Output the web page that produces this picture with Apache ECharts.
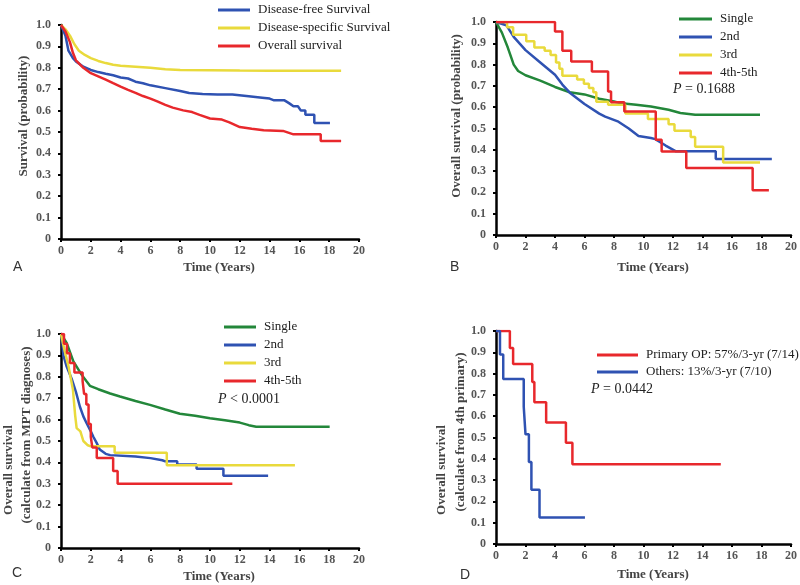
<!DOCTYPE html>
<html>
<head>
<meta charset="utf-8">
<script src="https://cdn.jsdelivr.net/npm/echarts@6/dist/echarts.min.js"></script>
<style>
  html, body { margin: 0; padding: 0; background: #fff; }
  #chart { width: 800px; height: 585px; }
</style>
</head>
<body>
<div id="chart"></div>
<script>
// Kaplan-Meier curves, points are [years, survival]
// panel A
const aDisFree = [[0,1],[0.3,0.95],[0.5,0.88],[0.8,0.845],[1,0.83],[1.5,0.805],[2,0.79],[2.5,0.78],[3,0.772],[3.5,0.765],[4,0.755],[4.5,0.75],[5,0.735],[5.5,0.728],[6,0.718],[7,0.705],[8,0.692],[8.6,0.682],[9.5,0.678],[10.5,0.675],[11.5,0.675],[12.6,0.667],[13.5,0.66],[14,0.656],[14.3,0.648],[15,0.648],[15.3,0.635],[15.6,0.62],[15.9,0.62],[16.1,0.6],[16.4,0.6],[16.4,0.581],[17,0.581],[17,0.542],[18.05,0.542]];
const aDisSpec = [[0,1],[0.3,0.98],[0.6,0.95],[0.9,0.91],[1.2,0.88],[1.6,0.86],[2,0.845],[2.5,0.832],[3,0.822],[3.5,0.814],[4,0.81],[5,0.805],[6,0.8],[7,0.793],[8,0.79],[10,0.789],[12,0.787],[14,0.786],[16,0.786],[18.8,0.786]];
const aOverall = [[0,1],[0.3,0.97],[0.6,0.92],[0.8,0.87],[1,0.835],[1.5,0.8],[2,0.775],[2.5,0.76],[3,0.745],[3.5,0.728],[4,0.712],[4.5,0.697],[5,0.683],[5.5,0.668],[6,0.656],[6.5,0.642],[7,0.627],[7.5,0.614],[8.2,0.601],[8.8,0.593],[9.3,0.58],[10,0.563],[10.8,0.558],[11.3,0.545],[12,0.523],[12.8,0.515],[13.6,0.508],[14.9,0.505],[15.6,0.489],[17.43,0.489],[17.43,0.458],[18.8,0.458]];
// panel B
const bSingle = [[0,1],[0.4,0.95],[0.8,0.88],[1.2,0.8],[1.5,0.77],[2,0.75],[3,0.725],[4,0.695],[5,0.67],[6,0.66],[7,0.64],[8,0.627],[8.5,0.618],[9.5,0.612],[10.5,0.603],[11.7,0.588],[12.5,0.573],[13.5,0.565],[17.9,0.565]];
const bSecond = [[0,1],[0.7,0.985],[1.2,0.93],[2,0.868],[3,0.81],[4,0.752],[4.5,0.706],[5,0.668],[6,0.615],[7,0.57],[7.4,0.556],[8.3,0.532],[9,0.5],[9.66,0.465],[10.5,0.455],[10.8,0.45],[11.5,0.42],[12.2,0.393],[14.9,0.393],[14.9,0.357],[18.7,0.357]];
const bThird = [[0,1],[0.75,0.975],[1.16,0.94],[2.05,0.91],[2.6,0.88],[3.3,0.865],[3.7,0.845],[4.07,0.81],[4.3,0.78],[4.5,0.748],[5.5,0.73],[5.96,0.71],[6.3,0.69],[6.6,0.67],[6.8,0.626],[7.6,0.611],[8.77,0.571],[10.3,0.545],[11.7,0.52],[12.1,0.49],[13.2,0.46],[13.5,0.414],[15.4,0.34],[17.9,0.34]];
const bFourth = [[0,1],[4.0,0.955],[4.5,0.865],[5.1,0.815],[6.5,0.768],[7.6,0.674],[7.8,0.623],[8.7,0.58],[10.83,0.447],[11.23,0.392],[12.9,0.314],[17.4,0.21],[18.5,0.21]];
// panel C
const cSingle = [[0,1],[0.38,0.958],[0.83,0.872],[1.39,0.809],[1.7,0.78],[1.94,0.758],[2.5,0.742],[3.3,0.722],[3.96,0.708],[5,0.687],[5.97,0.669],[7,0.647],[7.98,0.627],[9,0.618],[10,0.606],[11,0.597],[12,0.586],[12.6,0.574],[13.1,0.567],[18.03,0.567]];
const cSecond = [[0,1],[0.1,0.95],[0.16,0.9],[0.38,0.848],[0.72,0.79],[1.0,0.73],[1.27,0.66],[1.5,0.615],[1.72,0.583],[2,0.545],[2.17,0.52],[2.4,0.49],[2.6,0.46],[3.0,0.44],[3.3,0.434],[5,0.428],[6,0.42],[6.8,0.41],[7.0,0.405],[7.8,0.405],[7.8,0.39],[9.1,0.39],[9.1,0.37],[10.9,0.37],[10.9,0.338],[13.9,0.338]];
const cThird = [[0,1],[0.25,0.92],[0.5,0.85],[0.8,0.74],[0.95,0.62],[1.05,0.56],[1.3,0.545],[1.5,0.5],[1.8,0.48],[2.0,0.475],[3.6,0.475],[3.6,0.445],[7.1,0.445],[7.1,0.387],[15.7,0.387]];
const cFourth = [[0,1],[0.2,0.955],[0.4,0.91],[0.6,0.865],[0.9,0.82],[1.45,0.78],[1.55,0.72],[1.7,0.67],[1.85,0.58],[2.0,0.52],[2.1,0.47],[2.4,0.42],[3.5,0.36],[3.8,0.3],[11.5,0.3]];
// panel D
const dPrimaryOp = [[0,1],[0.94,0.92],[1.16,0.845],[2.46,0.76],[2.6,0.665],[3.4,0.57],[4.74,0.475],[5.18,0.375],[15.24,0.375]];
const dOthers = [[0,1],[0.27,0.89],[0.49,0.775],[1.88,0.645],[2.0,0.515],[2.23,0.385],[2.4,0.255],[2.95,0.125],[6.03,0.125]];

const xTicks = [0, 20, 2];    // min, max, step
const yTicks = [0, 1, 0.1];

const BLUE = '#2f52b2', YELLOW = '#e9da3c', RED = '#e8282c', GREEN = '#23873a';
const serif = '"Liberation Serif", "DejaVu Serif", serif';

const grids = [
    {left: 61, top: 25, width: 298, height: 214},
    {left: 496, top: 22, width: 298, height: 213},
    {left: 61, top: 334, width: 298, height: 214},
    {left: 496, top: 331, width: 298, height: 213}
];

function xAxisFor(i) {
    return {
        type: 'value', gridIndex: i, min: xTicks[0], max: xTicks[1], interval: xTicks[2],
        axisLine: {lineStyle: {color: '#000', width: 2.5}},
        axisTick: {length: 3, lineStyle: {color: '#000', width: 2}},
        splitLine: {show: false},
        axisLabel: {margin: 6, color: '#555', fontFamily: serif, fontWeight: 'bold', fontSize: 12}
    };
}
function yAxisFor(i) {
    return {
        type: 'value', gridIndex: i, min: yTicks[0], max: yTicks[1], interval: yTicks[2],
        axisLine: {show: true, lineStyle: {color: '#000', width: 2.5}},
        axisTick: {show: true, length: 3, lineStyle: {color: '#000', width: 2}},
        splitLine: {show: false},
        axisLabel: {
            margin: 10, color: '#555', fontFamily: serif, fontWeight: 'bold', fontSize: 12,
            formatter: v => v === 0 ? '0' : v.toFixed(1)
        }
    };
}
function km(name, data, color, i, step) {
    return {
        name: name, type: 'line', data: data, xAxisIndex: i, yAxisIndex: i,
        step: step ? 'end' : false, symbol: 'none', silent: true,
        lineStyle: {color: color, width: 2.5}, itemStyle: {color: color}
    };
}
function legendAt(left, top, names, w, gap) {
    return {
        left: left, top: top, orient: 'vertical', data: names, itemWidth: w, itemHeight: 3,
        itemGap: gap, icon: 'rect', selectedMode: false,
        itemStyle: {borderWidth: 0},
        textStyle: {fontFamily: serif, fontSize: 13, lineHeight: 14, color: '#222', padding: [0, 0, 0, 3]}
    };
}
function label(text, x, y) {
    return {type: 'text', x: x, y: y, style: {text: text, font: '14px "Liberation Sans", Arial, sans-serif', fill: '#333', textVerticalAlign: 'middle'}};
}
function axisName(text, x, y, rot) {
    return {
        type: 'text', x: x, y: y, rotation: rot ? Math.PI / 2 : 0,
        style: {text: text, font: 'bold 13px ' + serif, fill: '#444', textAlign: 'center', textVerticalAlign: 'middle'}
    };
}
function pValue(text, x, y) {
    return {
        type: 'text', x: x, y: y,
        style: {
            text: '{i|P} ' + text, font: '14px ' + serif, fill: '#222', textVerticalAlign: 'middle',
            rich: {i: {fontStyle: 'italic', fontFamily: serif, fontSize: 14, fill: '#222'}}
        }
    };
}

const chart = echarts.init(document.getElementById('chart'));
chart.setOption({
    animation: false,
    backgroundColor: '#fff',
    grid: grids,
    xAxis: [0, 1, 2, 3].map(xAxisFor),
    yAxis: [0, 1, 2, 3].map(yAxisFor),
    legend: [
        legendAt(213, -2, ['Disease-free Survival', 'Disease-specific Survival', 'Overall survival'], 32, 4),
        legendAt(674, 7, ['Single', '2nd', '3rd', '4th-5th'], 33, 4),
        legendAt(219, 315, ['Single', '2nd', '3rd', '4th-5th'], 32, 4),
        legendAt(592, 343, ['Primary OP: 57%/3-yr (7/14)', 'Others: 13%/3-yr (7/10)'], 41, 3)
    ],
    series: [
        km('Disease-free Survival', aDisFree, BLUE, 0, false),
        km('Disease-specific Survival', aDisSpec, YELLOW, 0, false),
        km('Overall survival', aOverall, RED, 0, false),
        km('Single', bSingle, GREEN, 1, false),
        km('2nd', bSecond, BLUE, 1, false),
        km('3rd', bThird, YELLOW, 1, true),
        km('4th-5th', bFourth, RED, 1, true),
        km('Single', cSingle, GREEN, 2, false),
        km('2nd', cSecond, BLUE, 2, false),
        km('3rd', cThird, YELLOW, 2, false),
        km('4th-5th', cFourth, RED, 2, true),
        km('Primary OP: 57%/3-yr (7/14)', dPrimaryOp, RED, 3, true),
        km('Others: 13%/3-yr (7/10)', dOthers, BLUE, 3, true)
    ],
    graphic: [
        label('A', 13, 267), label('B', 450, 267), label('C', 12, 573), label('D', 460, 575),
        axisName('Time (Years)', 219, 268), axisName('Time (Years)', 653, 268),
        axisName('Time (Years)', 219, 577), axisName('Time (Years)', 653, 575),
        axisName('Survival (probability)', 24, 116, true),
        axisName('Overall survival (probability)', 457, 116, true),
        axisName('Overall survival', 9, 470, true),
        axisName('(calculate from MPT diagnoses)', 27, 435, true),
        axisName('Overall survival', 442, 470, true),
        axisName('(calculate from 4th primary)', 461, 432, true),
        pValue('= 0.1688', 673, 89), pValue('< 0.0001', 218, 399), pValue('= 0.0442', 591, 389)
    ]
});
</script>
</body>
</html>
